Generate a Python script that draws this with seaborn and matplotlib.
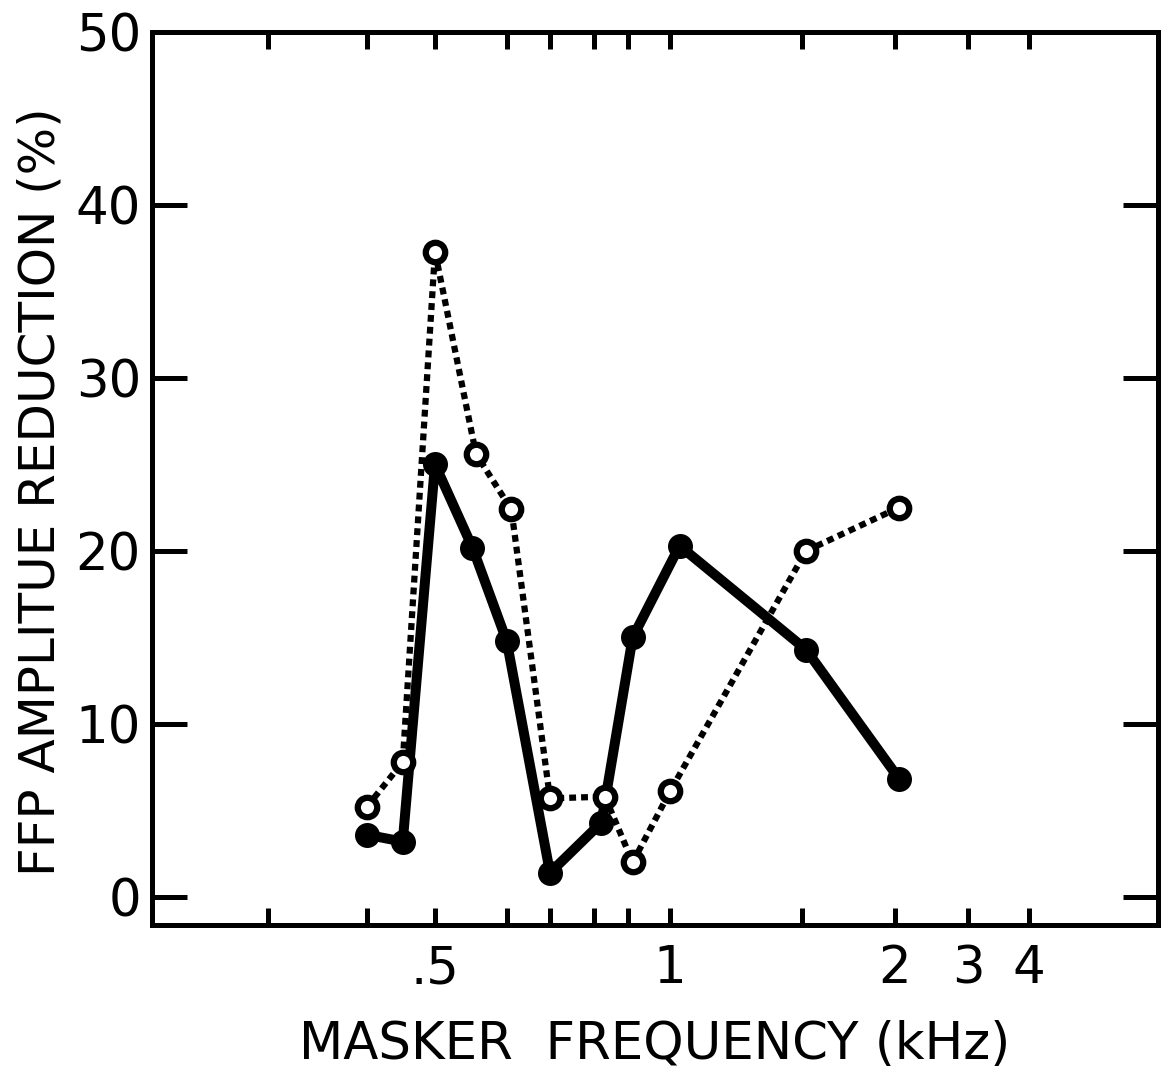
import numpy as np
import pandas as pd
import matplotlib
matplotlib.use("Agg")
import matplotlib.pyplot as plt
import seaborn as sns

# ---------------- data ----------------
freq_filled = [0.40, 0.45, 0.50, 0.55, 0.60, 0.70, 0.82, 0.91, 1.03, 1.52, 2.05]
red_filled = [3.6, 3.2, 25.0, 20.2, 14.8, 1.4, 4.3, 15.0, 20.3, 14.3, 6.8]

freq_open = [0.40, 0.45, 0.50, 0.555, 0.61, 0.70, 0.83, 0.91, 1.00, 1.52, 2.04]
red_open = [5.2, 7.8, 37.3, 25.6, 22.4, 5.7, 5.8, 2.0, 6.1, 20.0, 22.5]

x_ticks = [0.3, 0.4, 0.5, 0.6, 0.7, 0.8, 0.9, 1.0, 1.5, 2.0, 3.0, 4.0]
x_ticklabels = ["", "", ".5", "", "", "", "", "1", "", "2", "3", "4"]
x_long_ticks = [0.5, 1.0, 4.0]
y_ticks = [0, 10, 20, 30, 40, 50]
y_ticklabels = ["0", "10", "20", "30", "40", "50"]

# ---------------- the hand-drawn frequency axis (warped log scale) ----------------
SCALE_FREQS = [0.2135, 0.3, 0.4, 0.5, 0.6, 0.7, 0.8, 0.9, 1.0, 1.5, 2.0, 3.0, 4.0, 7.34]
SCALE_UNITS = [152, 268.3, 366.7, 435, 506.7, 550, 594.3, 628.3, 670, 801.7, 895, 968.3, 1029.3, 1158]
LF = np.log(np.array(SCALE_FREQS))
PU = np.array(SCALE_UNITS, float)


def fwd(f):
    f = np.asarray(f, float)
    shp = f.shape
    lf = np.log(np.clip(np.atleast_1d(f), 1e-9, None))
    out = np.interp(lf, LF, PU)
    lo = lf < LF[0]
    hi = lf > LF[-1]
    out[lo] = PU[0] + (lf[lo] - LF[0]) * (PU[1] - PU[0]) / (LF[1] - LF[0])
    out[hi] = PU[-1] + (lf[hi] - LF[-1]) * (PU[-1] - PU[-2]) / (LF[-1] - LF[-2])
    return out.reshape(shp)


def inv(u):
    u = np.asarray(u, float)
    shp = u.shape
    u1 = np.atleast_1d(u)
    out = np.interp(u1, PU, LF)
    lo = u1 < PU[0]
    hi = u1 > PU[-1]
    out[lo] = LF[0] + (u1[lo] - PU[0]) * (LF[1] - LF[0]) / (PU[1] - PU[0])
    out[hi] = LF[-1] + (u1[hi] - PU[-1]) * (LF[-1] - LF[-2]) / (PU[-1] - PU[-2])
    return np.exp(out).reshape(shp)


df_filled = pd.DataFrame({"freq": freq_filled, "reduction": red_filled})
df_open = pd.DataFrame({"freq": freq_open, "reduction": red_open})

sns.set_style("ticks")
plt.rcParams["font.family"] = ["DejaVu Sans"]
plt.rcParams["text.color"] = "black"
plt.rcParams["axes.labelcolor"] = "black"
plt.rcParams["xtick.color"] = "black"
plt.rcParams["ytick.color"] = "black"
plt.rcParams["xtick.labelcolor"] = "black"
plt.rcParams["ytick.labelcolor"] = "black"

W, H = 1164, 1080
fig = plt.figure(figsize=(W / 100, H / 100), dpi=100)
ax = fig.add_axes([152 / W, 1 - 925 / H, (1158 - 152) / W, (925 - 32) / H])
ax.set_xscale("function", functions=(fwd, inv))

sns.lineplot(data=df_filled, x="freq", y="reduction", ax=ax, color="black",
             linewidth=7.2, marker="o", markersize=18, markerfacecolor="black",
             markeredgecolor="black", markeredgewidth=0, estimator=None,
             errorbar=None, sort=False, zorder=3)
sns.lineplot(data=df_open, x="freq", y="reduction", ax=ax, color="black",
             linewidth=4.5, linestyle=(0, (1.1, 0.8)), marker="o", markersize=14,
             markerfacecolor="white", markeredgecolor="black", markeredgewidth=4.5,
             estimator=None, errorbar=None, sort=False, zorder=4)

ax.set_xlim(SCALE_FREQS[0], SCALE_FREQS[-1])
ax.set_ylim(-1.62, 50)

ax.set_xticks(x_ticks)
ax.set_xticklabels(x_ticklabels)
ax.set_xticks(x_long_ticks, minor=True)
ax.set_xticklabels([], minor=True)
ax.set_yticks(y_ticks)
ax.set_yticklabels(y_ticklabels)

ax.tick_params(axis="x", which="major", direction="in", length=12, width=3.6,
               top=True, bottom=True, labelsize=37, pad=14, color="black",
               labelcolor="black")
ax.tick_params(axis="x", which="minor", direction="in", length=20, width=3.6,
               top=True, bottom=True, color="black")
ax.tick_params(axis="y", which="major", direction="in", length=25, width=3.6,
               left=True, right=True, labelsize=37, pad=8, color="black",
               labelcolor="black")
ax.tick_params(axis="y", which="minor", left=False, right=False)

for s in ax.spines.values():
    s.set_visible(True)
    s.set_linewidth(3.6)
    s.set_color("black")

ax.set_xlabel("")
ax.set_ylabel("")

fig.text(41 / W, 1 - 492 / H, "FFP AMPLITUE REDUCTION (%)", rotation=90,
         ha="center", va="center", fontsize=36, color="black")
fig.text(655 / W, 1 - 1045 / H, "MASKER  FREQUENCY (kHz)",
         ha="center", va="center", fontsize=37, color="black")

fig.savefig("out.png", dpi=100, facecolor="white")
